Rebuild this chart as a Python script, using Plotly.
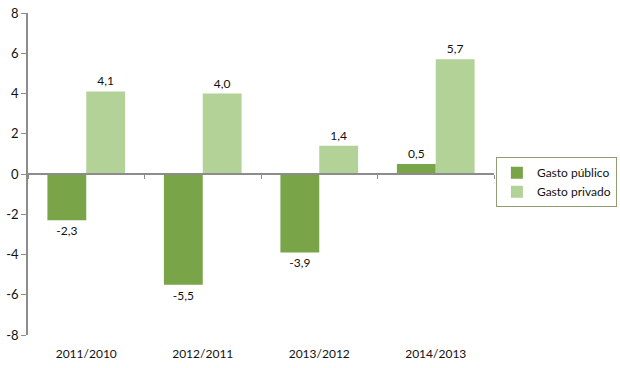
import plotly.graph_objects as go

categories = ["2011/2010", "2012/2011", "2013/2012", "2014/2013"]
gasto_publico = [-2.3, -5.5, -3.9, 0.5]
gasto_privado = [4.1, 4.0, 1.4, 5.7]
y_ticks = [-8, -6, -4, -2, 0, 2, 4, 6, 8]

def fmt(v):
    return f"{v:.1f}".replace(".", ",")

FAM = "Lato, Open Sans, Liberation Sans, sans-serif"
font = dict(family=FAM, size=12, color="#111111")

fig = go.Figure()
fig.add_trace(go.Bar(
    x=categories, y=gasto_publico, name="Gasto público",
    marker=dict(color="#79a548", line=dict(width=0)),
    text=[fmt(v) for v in gasto_publico], textposition="outside",
    textfont=font, cliponaxis=False,
))
fig.add_trace(go.Bar(
    x=categories, y=gasto_privado, name="Gasto privado",
    marker=dict(color="#b3d297", line=dict(width=0)),
    text=[fmt(v) for v in gasto_privado], textposition="outside",
    textfont=font, cliponaxis=False,
))
# invisible trace to carry the zero-line axis
fig.add_trace(go.Scatter(x=categories, y=[0]*len(categories), xaxis="x2",
                         mode="markers", marker=dict(opacity=0),
                         showlegend=False, hoverinfo="skip"))

fig.update_layout(
    width=620, height=368,
    margin=dict(l=28, r=126, t=13, b=33),
    paper_bgcolor="white", plot_bgcolor="white",
    barmode="group", bargap=0.333, bargroupgap=0,
    font=font,
    xaxis=dict(type="category", categoryarray=categories, range=[-0.5, 3.5],
               showline=False, showgrid=False, zeroline=False, automargin=False,
               ticks="outside", ticklen=8, tickcolor="rgba(0,0,0,0)",
               tickfont=dict(family=FAM, size=12, color="#111111")),
    xaxis2=dict(type="category", categoryarray=categories, range=[-0.5, 3.5],
                overlaying="x", anchor="free", position=0.5, automargin=False,
                showline=True, linecolor="#8c8c8c", linewidth=1.5,
                ticks="outside", tickson="boundaries", ticklen=4, tickcolor="#8c8c8c",
                showticklabels=False, showgrid=False, zeroline=False),
    yaxis=dict(range=[-8, 8], tickvals=y_ticks, ticktext=[str(v) for v in y_ticks],
               showline=True, linecolor="#8c8c8c", linewidth=1.5, automargin=False,
               ticks="outside", ticklen=5, tickcolor="#8c8c8c",
               showgrid=False, zeroline=False,
               tickfont=dict(family=FAM, size=13, color="#111111")),
    legend=dict(xref="container", yref="container",
                x=0.995, y=0.573, xanchor="right", yanchor="top",
                bordercolor="#8f9d74", borderwidth=1, bgcolor="white",
                font=dict(family=FAM, size=12, color="#111111"),
                itemwidth=30, tracegroupgap=6),
)

fig.write_html("out.html", config={"displayModeBar": False},
               post_script="document.body.style.margin='0';document.body.style.overflow='hidden';")
